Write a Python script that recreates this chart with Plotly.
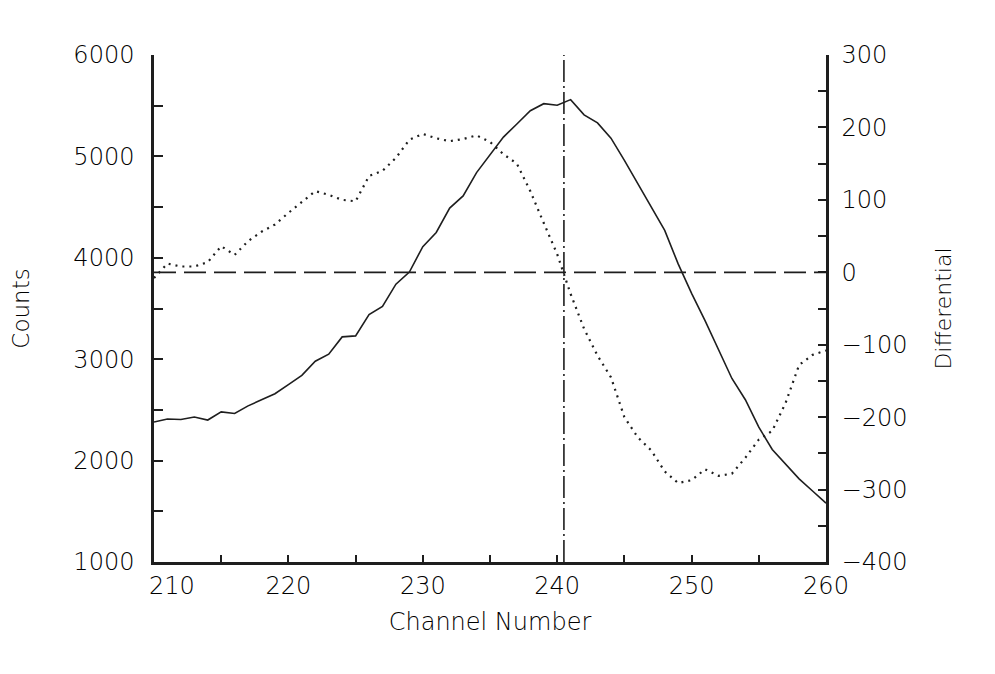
import plotly.graph_objects as go

channels = list(range(210, 261))
counts = [2380, 2410, 2405, 2430, 2400, 2480, 2465, 2540, 2600, 2660,
          2750, 2840, 2980, 3050, 3220, 3230, 3440, 3520, 3740, 3860,
          4110, 4250, 4490, 4610, 4840, 5020, 5190, 5320, 5450, 5520,
          5505, 5560, 5410, 5330, 5180, 4960, 4730, 4500, 4270, 3940,
          3650, 3380, 3100, 2810, 2600, 2330, 2110, 1960, 1820, 1700, 1580]
differential = [-8, 12, 8, 8, 14, 36, 24, 43, 56, 66,
                82, 97, 112, 107, 100, 98, 133, 140, 158, 183,
                191, 185, 181, 184, 189, 180, 163, 150, 112, 68,
                25, -30, -78, -115, -145, -200, -228, -246, -275, -291,
                -287, -272, -281, -278, -256, -231, -219, -180, -128, -114, -108]

x_ticks = list(range(210, 261, 5))
x_labels = ["" if (v % 10 or v == 210) else str(v) for v in x_ticks]
y_ticks = list(range(1000, 6001, 500))
y_labels = [str(v) if v % 1000 == 0 else "" for v in y_ticks]
y2_ticks = list(range(-400, 301, 50))
y2_labels = [(str(v).replace("-", "\u2212") if v % 100 == 0 else "") for v in y2_ticks]
zero_level = 0
marker_channel = 240.5

ink = "#1e1e1e"
text_ink = "#000000"
font = "DejaVu Sans"
wt = 200

def f(size):
    return dict(family=font, size=size, color=text_ink, weight=wt)

fig = go.Figure()
fig.add_trace(go.Scatter(x=channels, y=counts, mode="lines",
                         line=dict(color=ink, width=1.6), yaxis="y"))
fig.add_trace(go.Scatter(x=channels, y=differential, mode="lines",
                         line=dict(color=ink, width=2.2, dash="2px,5px"), yaxis="y2"))

fig.add_shape(type="line", xref="x", yref="y2", x0=210, x1=260, y0=zero_level, y1=zero_level,
              line=dict(color=ink, width=1.8, dash="22px,8px"))
fig.add_shape(type="line", xref="x", yref="paper", x0=marker_channel, x1=marker_channel, y0=0, y1=1,
              line=dict(color=ink, width=1.6, dash="22px,4px,2px,4px"))

fig.add_annotation(x=210, y=0, xref="x", yref="paper", text="210", showarrow=False,
                   xanchor="center", yanchor="top", xshift=18, yshift=-8, font=f(24))

fig.update_layout(
    width=995, height=674,
    margin=dict(l=154, r=169, t=55, b=112),
    paper_bgcolor="white", plot_bgcolor="white",
    showlegend=False,
    font=dict(family=font, color=text_ink),
    xaxis=dict(range=[210, 260], tickvals=x_ticks, ticktext=x_labels,
               ticks="inside", ticklen=7, tickwidth=1.5, tickcolor=ink,
               showline=True, linecolor=ink, linewidth=2.5, showgrid=False, zeroline=False,
               tickfont=f(24),
               title=dict(text="Channel Number", font=f(24), standoff=15)),
    yaxis=dict(range=[1000, 6000], tickvals=y_ticks, ticktext=y_labels,
               ticks="inside", ticklen=9, tickwidth=1.5, tickcolor=ink,
               showline=True, linecolor=ink, linewidth=2.5, showgrid=False, zeroline=False,
               ticklabelstandoff=12,
               tickfont=f(24),
               title=dict(text="Counts", font=f(23), standoff=38)),
    yaxis2=dict(range=[-400, 300], tickvals=y2_ticks, ticktext=y2_labels,
                overlaying="y", side="right",
                ticks="inside", ticklen=8, tickwidth=1.5, tickcolor=ink,
                showline=True, linecolor=ink, linewidth=2.5, showgrid=False, zeroline=False,
                ticklabelstandoff=8,
                tickfont=f(24),
                title=dict(text="Differential", font=f(22), standoff=30)),
)

fig.write_html("out.html")
